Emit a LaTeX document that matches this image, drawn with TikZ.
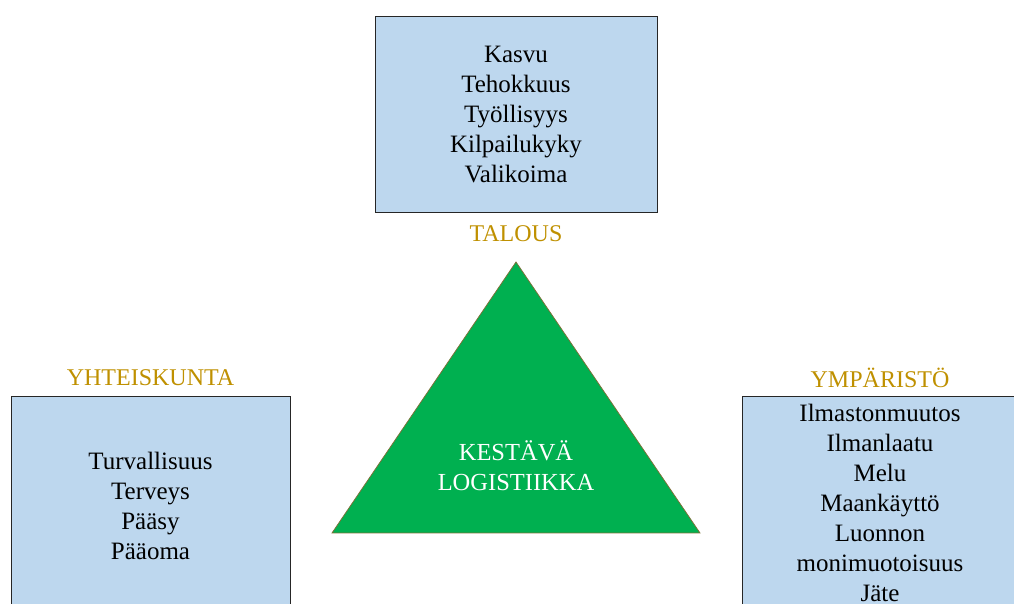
\documentclass[tikz,border=0pt]{standalone}
\usepackage{fontspec}
\setmainfont{Liberation Serif}
\definecolor{boxblue}{HTML}{BDD7EE}
\definecolor{trigreen}{HTML}{00B050}
\definecolor{tririm}{RGB}{125,112,55}
\definecolor{headgold}{HTML}{BF9000}
\tikzset{
  areabox/.style={draw=black!85,fill=boxblue,line width=1bp,rectangle,inner sep=0pt,align=center,
    font=\fontsize{25bp}{30bp}\selectfont},
  areahead/.style={text=headgold,inner sep=0pt,font=\fontsize{24bp}{28bp}\selectfont},
}
\begin{document}
\begin{tikzpicture}
  \clip (0bp,0bp) rectangle (1014bp,604bp);
  \useasboundingbox (0bp,0bp) rectangle (1014bp,604bp);
		%%
  \node (Talous) at (516bp,489bp) [areabox,minimum width=282bp,minimum height=196bp]
    {Kasvu\\Tehokkuus\\Työllisyys\\Kilpailukyky\\Valikoima};
  \node (Yhteiskunta) at (150.5bp,98bp) [areabox,minimum width=279bp,minimum height=218bp]
    {Turvallisuus\\Terveys\\Pääsy\\Pääoma};
  \node (Ymparisto) at (880bp,101bp) [areabox,minimum width=276bp,minimum height=212bp]
    {Ilmastonmuutos\\Ilmanlaatu\\Melu\\Maankäyttö\\Luonnon\\monimuotoisuus\\Jäte};
  \node (TalousHead) at (516bp,370bp) [areahead] {TALOUS};
  \node (YhteisHead) at (150.5bp,226bp) [areahead] {YHTEISKUNTA};
  \node (YmpHead) at (880bp,226bp) [areahead] {YMPÄRISTÖ};
		%
  \draw [draw=tririm,fill=trigreen,line width=0.75bp] (332bp,71bp) -- (516bp,342bp) -- (700bp,71bp) -- cycle;
  \node (Kestava) at (516bp,138bp) [text=white,align=center,inner sep=0pt,font=\fontsize{24.5bp}{30bp}\selectfont]
    {KESTÄVÄ\\LOGISTIIKKA};
		%
	\end{tikzpicture}
\end{document}
